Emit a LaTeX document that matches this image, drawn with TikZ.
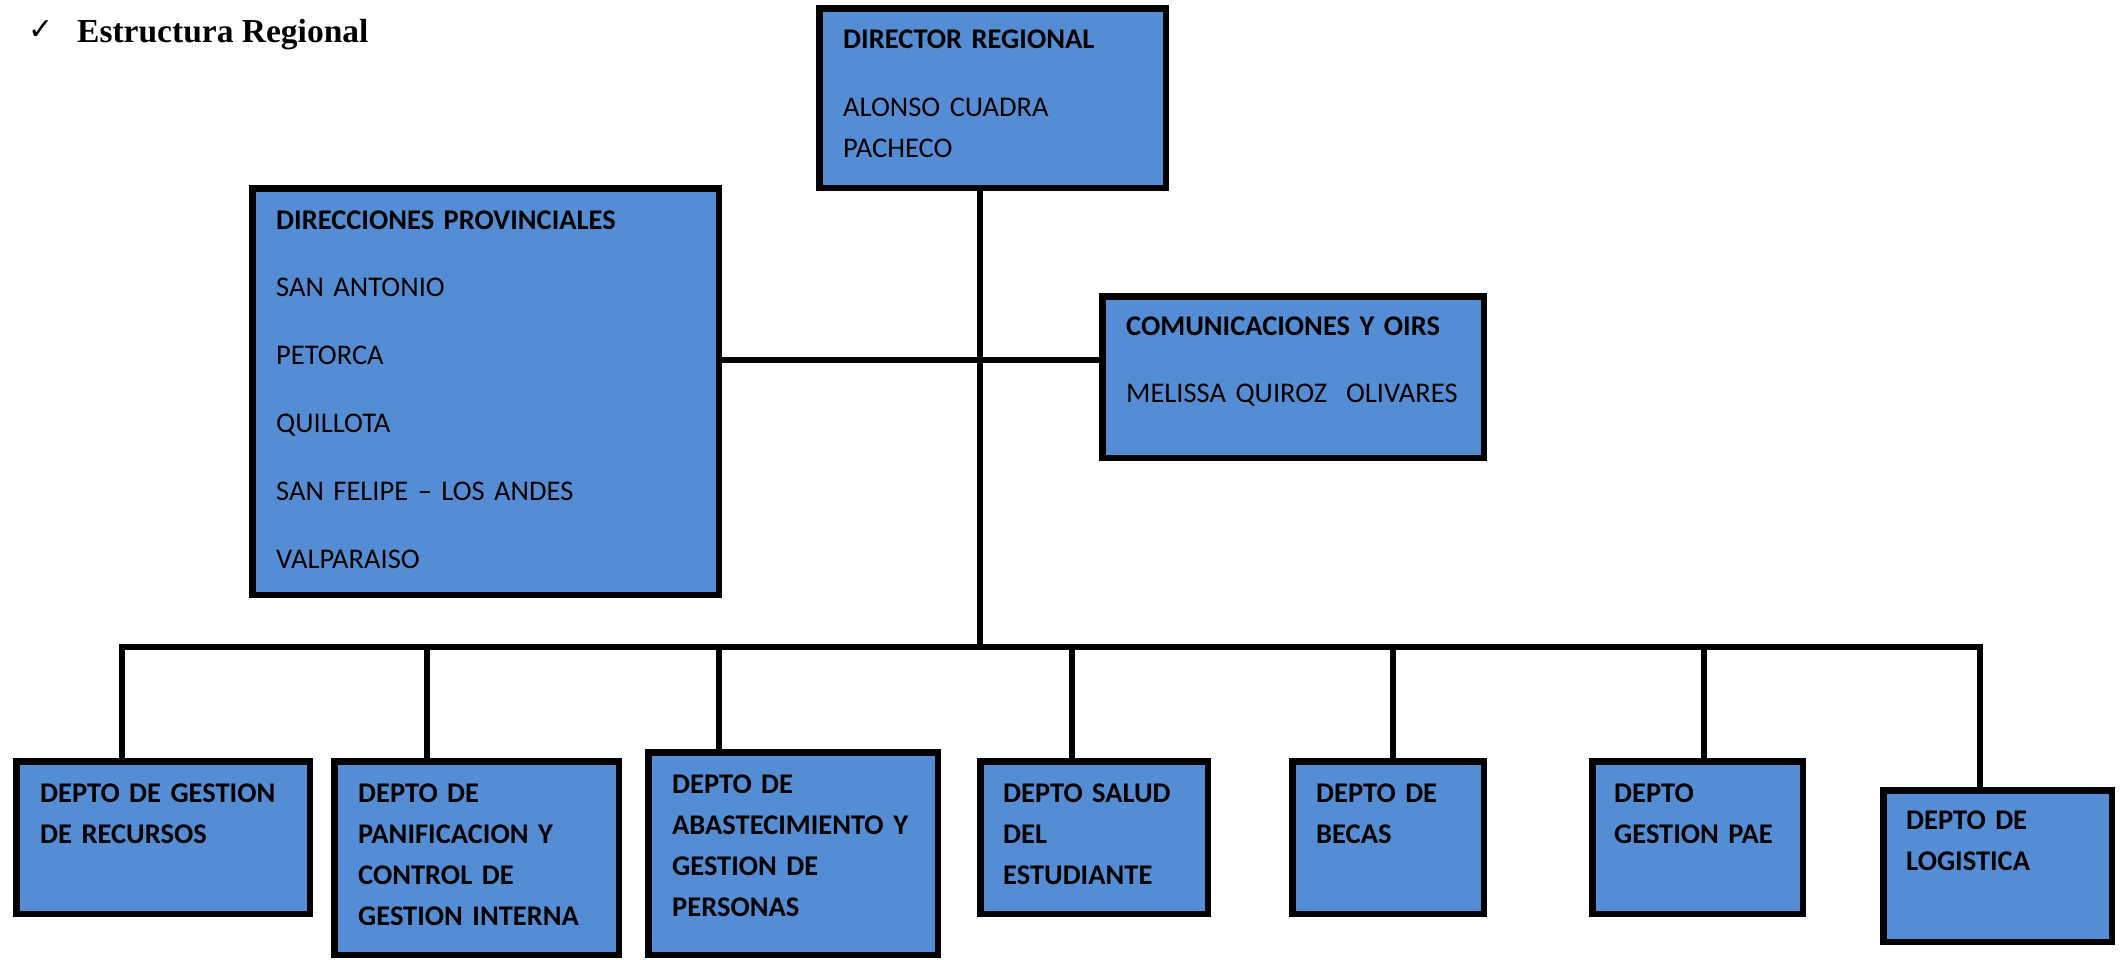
\documentclass[tikz,border=0pt]{standalone}
\usepackage{fontspec}
\setmainfont{Carlito}
\newfontfamily\titlefont{Liberation Serif}
\newfontfamily\symfont{DejaVu Sans}
\definecolor{boxblue}{RGB}{84,141,212}
\begin{document}
\begin{tikzpicture}[x=1pt,y=-1pt,
  orgbox/.style={draw=black, line width=6.5pt, fill=boxblue, rectangle, inner sep=0pt},
  conn/.style={line width=6pt, line join=miter},
  lbl/.style={anchor=base west, inner sep=0pt, align=left, text width=460pt},
  smallskip/.style={font=\fontsize{28.5}{41}\selectfont},
  wideskip/.style={font=\fontsize{28.5}{67.8}\selectfont},
  deptskip/.style={font=\bfseries\fontsize{28.5}{41}\selectfont},
]
\useasboundingbox (0,0) rectangle (2120,959);

% title
\node[anchor=base west, inner sep=0pt, font=\symfont\fontsize{30}{34}\selectfont] (chk) at (28,39) {✓};
\node[anchor=base west, inner sep=0pt, font=\titlefont\bfseries\fontsize{33.5}{38}\selectfont] (title) at (77,42) {Estructura Regional};

% upper boxes
\node[orgbox, minimum width=346.5pt, minimum height=179.5pt] (dir) at (992.5,98) {};
\node[orgbox, minimum width=466.5pt, minimum height=406.5pt] (dp) at (485.5,391.5) {};
\node[orgbox, minimum width=381.5pt, minimum height=161.5pt] (com) at (1293,377) {};

% lower boxes
\node[orgbox, minimum width=293.5pt, minimum height=152.5pt] (b1) at (163,837.5) {};
\node[orgbox, minimum width=284.5pt, minimum height=193.5pt] (b2) at (476.5,858) {};
\node[orgbox, minimum width=289.5pt, minimum height=202.5pt] (b3) at (793,853.5) {};
\node[orgbox, minimum width=227.5pt, minimum height=152.5pt] (b4) at (1094,837.5) {};
\node[orgbox, minimum width=191.5pt, minimum height=152.5pt] (b5) at (1388,837.5) {};
\node[orgbox, minimum width=210.5pt, minimum height=152.5pt] (b6) at (1697.5,837.5) {};
\node[orgbox, minimum width=228.5pt, minimum height=151.5pt] (b7) at (1997.5,866) {};

% texts
\node[lbl, smallskip] (dirt) at (843,48) {\textbf{DIRECTOR REGIONAL}\\[27pt]ALONSO CUADRA\\PACHECO};
\node[lbl, wideskip] (dpt) at (276,229) {\textbf{DIRECCIONES PROVINCIALES}\\SAN ANTONIO\\PETORCA\\QUILLOTA\\SAN FELIPE -- LOS ANDES\\VALPARAISO};
\node[lbl, wideskip] (comt) at (1126,335) {\textbf{COMUNICACIONES Y OIRS}\\MELISSA QUIROZ\ \ OLIVARES};

\node[lbl, deptskip] (b1t) at (40,802) {DEPTO DE GESTION\\DE RECURSOS};
\node[lbl, deptskip] (b2t) at (358,802) {DEPTO DE\\PANIFICACION Y\\CONTROL DE\\GESTION INTERNA};
\node[lbl, deptskip] (b3t) at (672,793) {DEPTO DE\\ABASTECIMIENTO Y\\GESTION DE\\PERSONAS};
\node[lbl, deptskip] (b4t) at (1003,802) {DEPTO SALUD\\DEL\\ESTUDIANTE};
\node[lbl, deptskip] (b5t) at (1316,802) {DEPTO DE\\BECAS};
\node[lbl, deptskip] (b6t) at (1614,802) {DEPTO\\GESTION PAE};
\node[lbl, deptskip] (b7t) at (1906,829) {DEPTO DE\\LOGISTICA};

% connectors
\coordinate (j) at (980,647);
\coordinate (h) at (980,360);
\coordinate (t1) at (122,647);
\coordinate (t2) at (427,647);
\coordinate (t3) at (719,647);
\coordinate (t4) at (1072,647);
\coordinate (t5) at (1393,647);
\coordinate (t6) at (1704,647);
\coordinate (t7) at (1980,647);

\draw[conn] (dir.south -| j) -- (j);
\draw[conn] (dp.east |- h) -- (com.west |- h);
\draw[conn] (t1 |- b1.north) -- (t1) -- (t7) -- (t7 |- b7.north);
\foreach \i in {2,...,6} {\draw[conn] (t\i) -- (t\i |- b\i.north);}
\end{tikzpicture}
\end{document}
